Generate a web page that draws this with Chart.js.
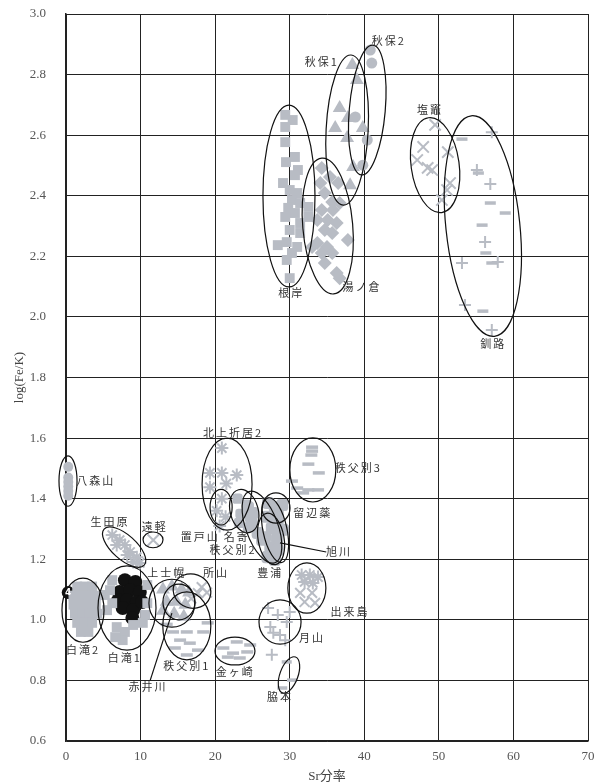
<!DOCTYPE html>
<html><head><meta charset="utf-8">
<script src="https://cdn.jsdelivr.net/npm/chart.js@4"></script>
<style>html,body{margin:0;padding:0;background:#fff}#wrap{width:599px;height:784px}</style>
</head><body><div id="wrap"><canvas id="c" width="599" height="784"></canvas></div>
<script>
// ---- data (Sr fraction, log(Fe/K)) ----
const nekishi = [[29.4,2.667],[30.4,2.650],[29.4,2.627],[29.4,2.577],[30.7,2.528],[29.5,2.511],[31.1,2.485],[30.7,2.468],[29.1,2.442],[30.0,2.419],[31.0,2.409],[30.3,2.386],[31.4,2.376],[29.8,2.360],[32.5,2.363],[30.7,2.343],[29.4,2.330],[32.5,2.330],[31.4,2.310],[30.0,2.287],[31.4,2.277],[28.4,2.237],[29.6,2.247],[31.0,2.231],[30.3,2.211],[29.6,2.188],[30.0,2.128]];
const yunokura = [[34.3,2.492],[35.4,2.462],[34.1,2.442],[36.5,2.442],[34.7,2.409],[35.7,2.379],[36.7,2.376],[34.3,2.353],[35.8,2.353],[33.7,2.320],[35.1,2.320],[36.3,2.310],[34.7,2.287],[35.7,2.277],[37.8,2.254],[33.7,2.244],[35.0,2.231],[34.3,2.211],[35.7,2.211],[34.7,2.178],[36.3,2.145],[36.7,2.128],[33.0,2.231]];
const akiu1 = [[38.4,2.832],[39.0,2.782],[36.7,2.690],[37.8,2.657],[36.1,2.624],[39.8,2.624],[37.7,2.591],[38.5,2.495],[38.1,2.435]];
const akiu2 = [[40.8,2.881],[41.0,2.838],[38.8,2.660],[39.8,2.501],[40.4,2.584]];
const shiogama = [[49.5,2.634],[47.9,2.561],[47.1,2.518],[48.5,2.492],[49.1,2.485],[51.2,2.544],[51.5,2.442],[51.1,2.419],[50.4,2.386]];
const kushiroPlus = [[57.1,2.610],[55.1,2.485],[56.9,2.439],[56.2,2.247],[53.1,2.178],[57.9,2.181],[53.5,2.039],[57.1,1.957]];
const kushiroDash = [[53.1,2.587],[55.3,2.475],[56.9,2.376],[58.9,2.343],[55.8,2.303],[56.3,2.211],[57.1,2.178],[55.9,2.019]];
const hachimoriyama = [[0.3,1.505],[0.3,1.470],[0.3,1.455],[0.3,1.440],[0.3,1.425],[0.3,1.410]];
const ikutahara = [[6.2,1.280],[7.2,1.263],[6.8,1.247],[7.9,1.247],[8.6,1.224],[8.2,1.214],[9.5,1.207],[9.0,1.191],[9.9,1.188]];
const engaru = [[11.7,1.263]];
const shirataki2 = [[1.5,1.11],[2.5,1.11],[3.5,1.11],[1.0,1.08],[2.0,1.08],[3.0,1.08],[4.0,1.08],[1.0,1.05],[2.0,1.05],[3.0,1.05],[4.0,1.05],[1.2,1.02],[2.2,1.02],[3.2,1.02],[4.2,1.02],[1.5,0.99],[2.5,0.99],[3.5,0.99],[2.0,0.96],[3.0,0.96]];
const shirataki1 = [[5.2,1.082],[6.2,1.055],[5.5,1.032],[6.8,0.976],[7.9,0.960],[9.0,0.983],[10.3,0.990],[10.9,1.055],[5.9,1.098],[7.6,0.933],[6.6,0.943],[10.6,1.016],[10.9,1.115],[6.2,1.131]];
const shirataki1Black = [[7.9,1.131],[9.3,1.125],[7.2,1.092],[8.6,1.098],[9.9,1.092],[7.0,1.065],[8.2,1.065],[9.5,1.059],[7.6,1.039],[9.0,1.032],[8.9,1.006],[10.2,1.059]];
const sample4 = [[0.3,1.09]];
const kamishihoro = [[13.0,1.10],[14.2,1.11],[15.5,1.10],[16.5,1.09],[13.5,1.06],[14.8,1.06],[16.0,1.05],[13.0,1.03],[14.5,1.02],[15.8,1.01]];
const tokoroyama = [[18.2,1.108],[17.7,1.088],[16.8,1.070],[18.9,1.090]];
const chippubetsu1 = [[14.35,0.960],[16.2,0.960],[18.4,0.960],[15.3,0.933],[16.6,0.923],[14.6,0.907],[17.7,0.900],[16.2,0.884],[19.0,0.990],[13.5,0.985]];
const kanegasaki = [[22.9,0.927],[21.1,0.907],[22.4,0.890],[24.3,0.894],[21.7,0.877],[23.3,0.874],[24.7,0.917]];
const gassan = [[27.1,1.039],[28.4,1.016],[30.0,1.026],[29.6,0.993],[27.4,0.976],[27.8,0.957],[28.7,0.950],[29.4,0.933],[27.6,0.885]];
const wakimoto = [[29.6,0.861],[30.3,0.801],[29.0,0.775]];
const dekijimaStar = [[31.6,1.148],[32.7,1.148],[33.8,1.141],[32.0,1.125],[33.1,1.122]];
const dekijimaX = [[31.4,1.089],[33.0,1.089],[32.0,1.059],[33.4,1.056]];
const kitakamiOrii2 = [[20.9,1.567],[19.3,1.485],[20.9,1.485],[22.9,1.478],[19.3,1.438],[21.5,1.450]];
const oketoyama = [[20.9,1.400],[20.2,1.360],[21.4,1.340],[20.6,1.310]];
const chippubetsu3 = [[33.0,1.570],[33.0,1.557],[32.9,1.544],[32.5,1.514],[33.9,1.485],[30.3,1.458],[31.0,1.435],[32.5,1.429],[33.8,1.429],[31.8,1.419]];
const nayoro = [[23.0,1.400],[24.2,1.380],[23.4,1.350],[24.6,1.340],[23.2,1.320],[24.4,1.305]];
const rubeshibe = [[27.1,1.386],[28.0,1.372],[29.0,1.379],[28.4,1.346]];
const chippubetsu2 = [[24.4,1.372],[25.1,1.353],[24.9,1.320],[25.7,1.287],[26.3,1.264]];
const asahikawa = [[27.0,1.340],[28.4,1.330],[27.6,1.303],[29.1,1.297]];
const toyoura = [[26.7,1.273],[28.3,1.270],[27.4,1.240],[28.4,1.231],[27.0,1.207],[28.0,1.198]];

const xTicks = [0,10,20,30,40,50,60,70];
const yTicks = [0.6,0.8,1.0,1.2,1.4,1.6,1.8,2.0,2.2,2.4,2.6,2.8,3.0];

// ellipse annotations: name, cx, cy, rx (x units), ry (y units), rotation deg
const ellipses = [
 ['根岸',29.9,2.399,3.49,0.300,0],['湯ノ倉',35.1,2.300,3.35,0.225,-5],['秋保1',37.7,2.617,2.82,0.248,3],['秋保2',40.4,2.683,2.41,0.215,5],
 ['塩竈',49.5,2.501,3.22,0.158,-8],['釧路',55.9,2.300,4.96,0.366,-6],['八森山',0.27,1.458,1.21,0.083,0],['生田原',7.8,1.240,3.62,0.040,42],
 ['遠軽',11.67,1.264,1.34,0.026,0],['白滝2',2.28,1.032,2.82,0.106,0],['白滝1',8.18,1.039,3.89,0.139,0],['上士幌',14.2,1.055,3.08,0.079,0],
 ['所山',16.9,1.095,2.55,0.056,20],['赤井川',15.15,1.059,2.15,0.059,0],['秩父別1',16.2,0.980,3.22,0.112,0],['金ヶ崎',22.66,0.897,2.68,0.046,0],
 ['月山',28.7,0.993,2.82,0.073,0],['脇本',29.9,0.818,1.21,0.063,20],['出来島',32.3,1.105,2.55,0.083,0],['北上折居2',21.6,1.448,3.35,0.152,0],
 ['秩父別3',33.1,1.495,3.08,0.106,0],['置戸山',20.8,1.372,1.48,0.059,0],['名寄',23.9,1.359,1.88,0.073,-15],['秩父別2',26.28,1.306,2.15,0.125,-20],
 ['留辺蘂',28.16,1.369,1.88,0.050,0],['旭川',28.03,1.296,1.61,0.109,-12],['豊浦',27.5,1.267,1.74,0.086,-10]
];
const labels = [
 ['秋保1',34.3,2.842],['秋保2',43.3,2.911],['根岸',30.2,2.079],['湯ノ倉',39.7,2.099],['塩竈',48.8,2.683],['釧路',57.3,1.911],
 ['八森山',4.0,1.458],['生田原',5.9,1.323],['遠軽',11.9,1.306],['白滝2',2.3,0.900],['白滝1',7.9,0.874],['上士幌',13.5,1.155],
 ['所山',20.1,1.155],['秩父別1',16.2,0.847],['赤井川',11.0,0.778],['金ヶ崎',22.7,0.828],['月山',33.0,0.940],['脇本',28.7,0.745],
 ['出来島',38.1,1.026],['北上折居2',22.4,1.617],['秩父別3',39.2,1.501],['置戸山',18.0,1.273],['名寄',22.9,1.273],['秩父別2',22.4,1.230],
 ['留辺蘂',33.1,1.353],['豊浦',27.4,1.155],['旭川',36.6,1.224]
];
const leaders = [[28.7,1.254,34.9,1.224],[11.3,0.801,14.2,1.022]];

const GRAY = '#b8bcc4';
const pts = a => a.map(([x,y]) => ({x,y}));
function ds(label, arr, style, r, opts={}) {
  return Object.assign({label, data: pts(arr), pointStyle: style, pointRadius: r, pointHoverRadius: r,
    backgroundColor: GRAY, borderColor: GRAY, borderWidth: 0, showLine: false, clip: false}, opts);
}
const datasets = [
  ds('根岸', nekishi, 'rect', 7),
  ds('湯ノ倉', yunokura, 'rectRot', 7),
  ds('秋保1', akiu1, 'triangle', 8),
  ds('秋保2', akiu2, 'circle', 5.5),
  ds('塩竈', shiogama, 'crossRot', 8, {borderWidth: 2}),
  ds('釧路+', kushiroPlus, 'cross', 6, {borderWidth: 2}),
  ds('釧路-', kushiroDash, 'line', 5.5, {borderWidth: 3.5}),
  ds('八森山', hachimoriyama, 'circle', 5),
  ds('生田原', ikutahara, 'star', 6.5, {borderWidth: 2}),
  ds('遠軽', engaru, 'crossRot', 8, {borderWidth: 2}),
  ds('白滝2', shirataki2, 'rect', 7),
  ds('白滝1', shirataki1, 'rect', 7),
  ds('上士幌', kamishihoro, 'triangle', 8),
  ds('所山', tokoroyama, 'crossRot', 7, {borderWidth: 2}),
  ds('秩父別1', chippubetsu1, 'line', 6, {borderWidth: 3.5}),
  ds('金ヶ崎', kanegasaki, 'line', 6, {borderWidth: 3.5}),
  ds('月山', gassan, 'cross', 6, {borderWidth: 2}),
  ds('脇本', wakimoto, 'line', 5, {borderWidth: 3.5}),
  ds('出来島*', dekijimaStar, 'star', 6.5, {borderWidth: 2}),
  ds('出来島x', dekijimaX, 'crossRot', 7, {borderWidth: 2}),
  ds('北上折居2', kitakamiOrii2, 'star', 6.5, {borderWidth: 2}),
  ds('置戸山', oketoyama, 'star', 6.5, {borderWidth: 2}),
  ds('秩父別3', chippubetsu3, 'line', 6, {borderWidth: 3.5}),
  ds('名寄', nayoro, 'rectRounded', 6),
  ds('留辺蘂', rubeshibe, 'rectRounded', 7),
  ds('秩父別2', chippubetsu2, 'rectRounded', 7),
  ds('旭川', asahikawa, 'rectRounded', 7),
  ds('豊浦', toyoura, 'rectRounded', 7),
  ds('白滝1(黒)', shirataki1Black, 'circle', 7, {backgroundColor: '#111', borderColor: '#111'}),
  ds('4', sample4, 'circle', 6.5, {backgroundColor: '#111', borderColor: '#111'})
];

const annot = {
  id: 'annot',
  afterDatasetsDraw(chart) {
    const {ctx, scales: {x, y}} = chart;
    ctx.save();
    ctx.strokeStyle = '#111'; ctx.lineWidth = 1.2;
    ellipses.forEach(([n, cx, cy, rx, ry, rot]) => {
      const px = x.getPixelForValue(cx), py = y.getPixelForValue(cy);
      const rxp = Math.abs(x.getPixelForValue(cx + rx) - px);
      const ryp = Math.abs(y.getPixelForValue(cy + ry) - py);
      ctx.beginPath(); ctx.ellipse(px, py, rxp, ryp, rot * Math.PI / 180, 0, Math.PI * 2); ctx.stroke();
    });
    leaders.forEach(([x1, y1, x2, y2]) => {
      ctx.beginPath(); ctx.moveTo(x.getPixelForValue(x1), y.getPixelForValue(y1));
      ctx.lineTo(x.getPixelForValue(x2), y.getPixelForValue(y2)); ctx.stroke();
    });
    ctx.font = '11px "Noto Sans CJK JP"';
    ctx.fillStyle = '#333'; ctx.textAlign = 'center'; ctx.textBaseline = 'middle';
    try { ctx.letterSpacing = '2px'; } catch(e) {}
    labels.forEach(([t, lx, ly]) => {
      ctx.fillText(t, x.getPixelForValue(lx), y.getPixelForValue(ly));
    });
    try { ctx.letterSpacing = '0px'; } catch(e) {}
    // number on the black marker
    ctx.fillStyle = '#fff'; ctx.font = 'bold 9px "DejaVu Sans"';
    sample4.forEach(([sx, sy]) => ctx.fillText('4', x.getPixelForValue(sx), y.getPixelForValue(sy) + 0.5));
    ctx.restore();
  }
};

const tickFont = {family: '"Liberation Serif", serif', size: 13};
new Chart(document.getElementById('c'), {
  type: 'scatter',
  data: {datasets},
  options: {
    responsive: false, animation: false, devicePixelRatio: 1,
    layout: {autoPadding: false, padding: {left: 0, right: 11, top: 14, bottom: 0}},
    plugins: {legend: {display: false}, tooltip: {enabled: false}},
    scales: {
      x: {
        type: 'linear', min: xTicks[0], max: xTicks[xTicks.length - 1],
        afterBuildTicks: s => { s.ticks = xTicks.map(v => ({value: v})); },
        afterFit: s => { s.height = 43; s.paddingLeft = 8; s.paddingRight = 8; },
        ticks: {color: '#555', font: tickFont, padding: 8, callback: v => String(v)},
        grid: {color: '#222', lineWidth: 1, drawTicks: false},
        border: {color: '#222', width: 1.5},
        title: {display: true, text: 'Sr分率', color: '#444', font: {family: '"Liberation Serif", "Noto Sans CJK JP"', size: 13}, padding: {top: 0, bottom: 0}}
      },
      y: {
        type: 'linear', min: yTicks[0], max: yTicks[yTicks.length - 1],
        afterBuildTicks: s => { s.ticks = yTicks.map(v => ({value: v})); },
        afterFit: s => { s.width = 66; s.paddingTop = 8; s.paddingBottom = 8; },
        ticks: {color: '#555', font: tickFont, padding: 20, callback: v => Number(v).toFixed(1)},
        grid: {color: '#222', lineWidth: 1, drawTicks: false},
        border: {color: '#222', width: 1.5},
        title: {display: true, text: 'log(Fe/K)', color: '#444', font: {family: '"Liberation Serif", serif', size: 13}, padding: {top: 12, bottom: 0}}
      }
    }
  },
  plugins: [annot]
});
</script></body></html>
